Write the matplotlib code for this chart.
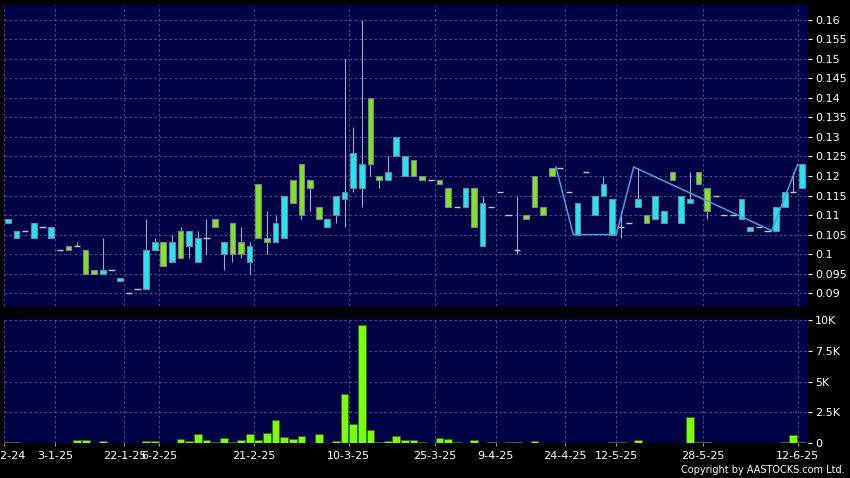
import numpy as np
import matplotlib
matplotlib.use("Agg")
import matplotlib.pyplot as plt
from matplotlib.transforms import ScaledTranslation

# daily OHLC (cyan = close above open, green = close below)
opens = [0.108, 0.104, 0.106, 0.104, 0.107, 0.104, 0.101, 0.102, 0.102, 0.101,
         0.096, 0.095, 0.096, 0.093, 0.090, 0.091, 0.091, 0.101, 0.103, 0.098,
         0.106, 0.102, 0.098, 0.104, 0.109, 0.100, 0.108, 0.103, 0.098, 0.118,
         0.104, 0.103, 0.104, 0.119, 0.123, 0.119, 0.112, 0.107, 0.110, 0.114,
         0.117, 0.117, 0.140, 0.120, 0.119, 0.125, 0.120, 0.124, 0.120, 0.119,
         0.119, 0.117, 0.112, 0.112, 0.117, 0.102, 0.112, 0.116, 0.110, 0.101,
         0.110, 0.120, 0.112, 0.122, 0.122, 0.116, 0.105, 0.121, 0.110, 0.115,
         0.105, 0.107, 0.108, 0.112, 0.110, 0.109, 0.108, 0.121, 0.108, 0.113,
         0.121, 0.117, 0.115, 0.110, 0.110, 0.109, 0.106, 0.107, 0.106, 0.106,
         0.112, 0.116, 0.117]
highs = [0.109, 0.106, 0.106, 0.108, 0.107, 0.107, 0.101, 0.102, 0.103, 0.101,
         0.096, 0.104, 0.096, 0.094, 0.090, 0.091, 0.109, 0.104, 0.103, 0.105,
         0.107, 0.106, 0.106, 0.109, 0.109, 0.103, 0.108, 0.107, 0.103, 0.118,
         0.111, 0.110, 0.115, 0.119, 0.123, 0.119, 0.112, 0.109, 0.115, 0.150,
         0.1325, 0.160, 0.140, 0.120, 0.125, 0.130, 0.125, 0.124, 0.120, 0.119,
         0.119, 0.117, 0.112, 0.117, 0.117, 0.115, 0.112, 0.116, 0.110, 0.115,
         0.110, 0.120, 0.112, 0.122, 0.122, 0.116, 0.113, 0.121, 0.115, 0.120,
         0.114, 0.111, 0.108, 0.122, 0.110, 0.115, 0.111, 0.121, 0.115, 0.121,
         0.121, 0.117, 0.115, 0.110, 0.110, 0.114, 0.107, 0.107, 0.106, 0.112,
         0.116, 0.121, 0.123]
lows = [0.108, 0.104, 0.106, 0.104, 0.107, 0.104, 0.101, 0.101, 0.102, 0.095,
        0.095, 0.095, 0.096, 0.093, 0.090, 0.091, 0.091, 0.101, 0.097, 0.098,
        0.099, 0.099, 0.098, 0.100, 0.107, 0.096, 0.098, 0.099, 0.095, 0.104,
        0.100, 0.103, 0.104, 0.113, 0.109, 0.111, 0.109, 0.107, 0.108, 0.107,
        0.116, 0.112, 0.120, 0.117, 0.119, 0.125, 0.120, 0.120, 0.119, 0.119,
        0.118, 0.112, 0.112, 0.112, 0.107, 0.102, 0.112, 0.116, 0.110, 0.100,
        0.109, 0.112, 0.110, 0.120, 0.122, 0.116, 0.105, 0.121, 0.110, 0.115,
        0.105, 0.104, 0.108, 0.112, 0.108, 0.109, 0.108, 0.119, 0.108, 0.113,
        0.118, 0.109, 0.115, 0.110, 0.110, 0.109, 0.106, 0.107, 0.106, 0.106,
        0.112, 0.116, 0.117]
closes = [0.109, 0.106, 0.106, 0.108, 0.107, 0.107, 0.101, 0.101, 0.102, 0.095,
          0.095, 0.096, 0.096, 0.094, 0.090, 0.091, 0.101, 0.103, 0.097, 0.103,
          0.099, 0.106, 0.104, 0.104, 0.107, 0.103, 0.100, 0.100, 0.102, 0.104,
          0.103, 0.108, 0.115, 0.113, 0.110, 0.117, 0.109, 0.109, 0.115, 0.116,
          0.126, 0.123, 0.123, 0.119, 0.121, 0.130, 0.125, 0.120, 0.119, 0.119,
          0.118, 0.112, 0.112, 0.117, 0.107, 0.113, 0.112, 0.116, 0.110, 0.101,
          0.109, 0.112, 0.110, 0.120, 0.122, 0.116, 0.113, 0.121, 0.115, 0.118,
          0.114, 0.107, 0.108, 0.114, 0.108, 0.115, 0.111, 0.119, 0.115, 0.114,
          0.118, 0.111, 0.115, 0.110, 0.110, 0.114, 0.107, 0.107, 0.106, 0.112,
          0.116, 0.116, 0.123]
volumes = [80, 80, 60, 0, 50, 50, 0, 0, 240, 300,
           0, 190, 0, 0, 0, 0, 210, 190, 0, 40,
           320, 160, 760, 300, 110, 430, 135, 270, 760, 300,
           810, 1870, 510, 320, 620, 0, 730, 0, 160, 3970,
           1600, 9600, 1060, 135, 160, 600, 245, 245, 80, 0,
           400, 325, 100, 0, 245, 0, 80, 0, 80, 80,
           0, 160, 40, 30, 20, 20, 20, 20, 0, 0,
           80, 80, 0, 270, 40, 0, 0, 0, 40, 2110,
           80, 80, 20, 20, 20, 20, 20, 20, 20, 0,
           100, 700, 135]

# light blue trend line drawn over the last part
zigzag_idx = [63.5, 65.5, 70.5, 72.5, 88.5, 91.5]
zigzag_val = [0.1223, 0.105, 0.105, 0.1223, 0.106, 0.123]

date_pos = [-0.45, 5.5, 13.5, 17.5, 28.5, 39.5, 49.5, 56.5, 64.5, 70.5, 80.5, 91.5]
date_labels = ['31-12-24', '3-1-25', '22-1-25', '6-2-25', '21-2-25', '10-3-25',
               '25-3-25', '9-4-25', '24-4-25', '12-5-25', '28-5-25', '12-6-25']

price_ticks = [0.09, 0.095, 0.1, 0.105, 0.11, 0.115, 0.12, 0.125, 0.13,
               0.135, 0.14, 0.145, 0.15, 0.155, 0.16]
vol_ticks = [0, 2500, 5000, 7500, 10000]
vol_labels = ['0', '2.5K', '5K', '7.5K', '10K']

BG = '#000046'
CYAN = '#22e4f2'
GREEN = '#84e41c'
VOLGREEN = '#7cfc10'
GRID = '#55559a'

fig = plt.figure(figsize=(8.5, 4.78), dpi=100, facecolor='black')
ax = fig.add_axes([0.0047, 0.3598, 0.9459, 0.6297])
axv = fig.add_axes([0.0047, 0.0726, 0.9459, 0.2600], sharex=ax)

x = np.arange(len(opens))
o = np.array(opens)
c = np.array(closes)
h = np.array(highs)
l = np.array(lows)
flat = o == c
lo = np.minimum(o, c)
hi = np.maximum(o, c)
cols = np.where(c > o, CYAN, GREEN)

# ============ candles ==================
ax.vlines(x, l, h, color='#a8a8c4', lw=0.8, zorder=2)
ax.bar(x[~flat], (hi - lo)[~flat], bottom=lo[~flat], width=0.66,
       color=cols[~flat], edgecolor='#6f8796', linewidth=0.8, zorder=3)
ax.hlines(o[flat], x[flat] - 0.36, x[flat] + 0.36, color='#c4c4d8', lw=1, zorder=3)
ax.plot(zigzag_idx, zigzag_val, color='#3fa6e0', lw=1.1, zorder=4)

# ============ volume ==================
axv.bar(x, volumes, width=0.9, color=VOLGREEN, edgecolor='#2f6a10', linewidth=0.6, zorder=3)

for a in (ax, axv):
    a.set_facecolor(BG)
    for s in a.spines.values():
        s.set_visible(False)
    a.yaxis.tick_right()
    a.tick_params(axis='y', colors='white', labelsize=8, length=2.9, width=0.8, pad=2)
    a.grid(True, color=GRID, ls=(0, (3, 3)), lw=0.6)
    a.set_axisbelow(True)

ax.set_xticks(date_pos)
ax.set_xlim(-0.46, 92.7)
ax.set_ylim(0.0867, 0.1638)
ax.set_yticks(price_ticks)
ax.set_yticklabels(['%g' % round(v, 3) for v in price_ticks])
ax.tick_params(axis='x', bottom=False, labelbottom=False)

axv.set_ylim(0, 10060)
axv.set_yticks(vol_ticks)
axv.set_yticklabels(vol_labels)
axv.set_xticklabels(date_labels)
axv.tick_params(axis='x', colors='white', labelsize=8, length=2.2, color='#a0a0a0', pad=3)

# first date sits partly off the left edge in the original
first = axv.get_xticklabels()[0]
first.set_transform(first.get_transform() + ScaledTranslation(-0.035, 0, fig.dpi_scale_trans))

fig.text(0.994, 0.017, 'Copyright by AASTOCKS.com Ltd.', ha='right', va='center',
         color='white', fontsize=7)

fig.savefig('out.png', dpi=100, facecolor='black')
